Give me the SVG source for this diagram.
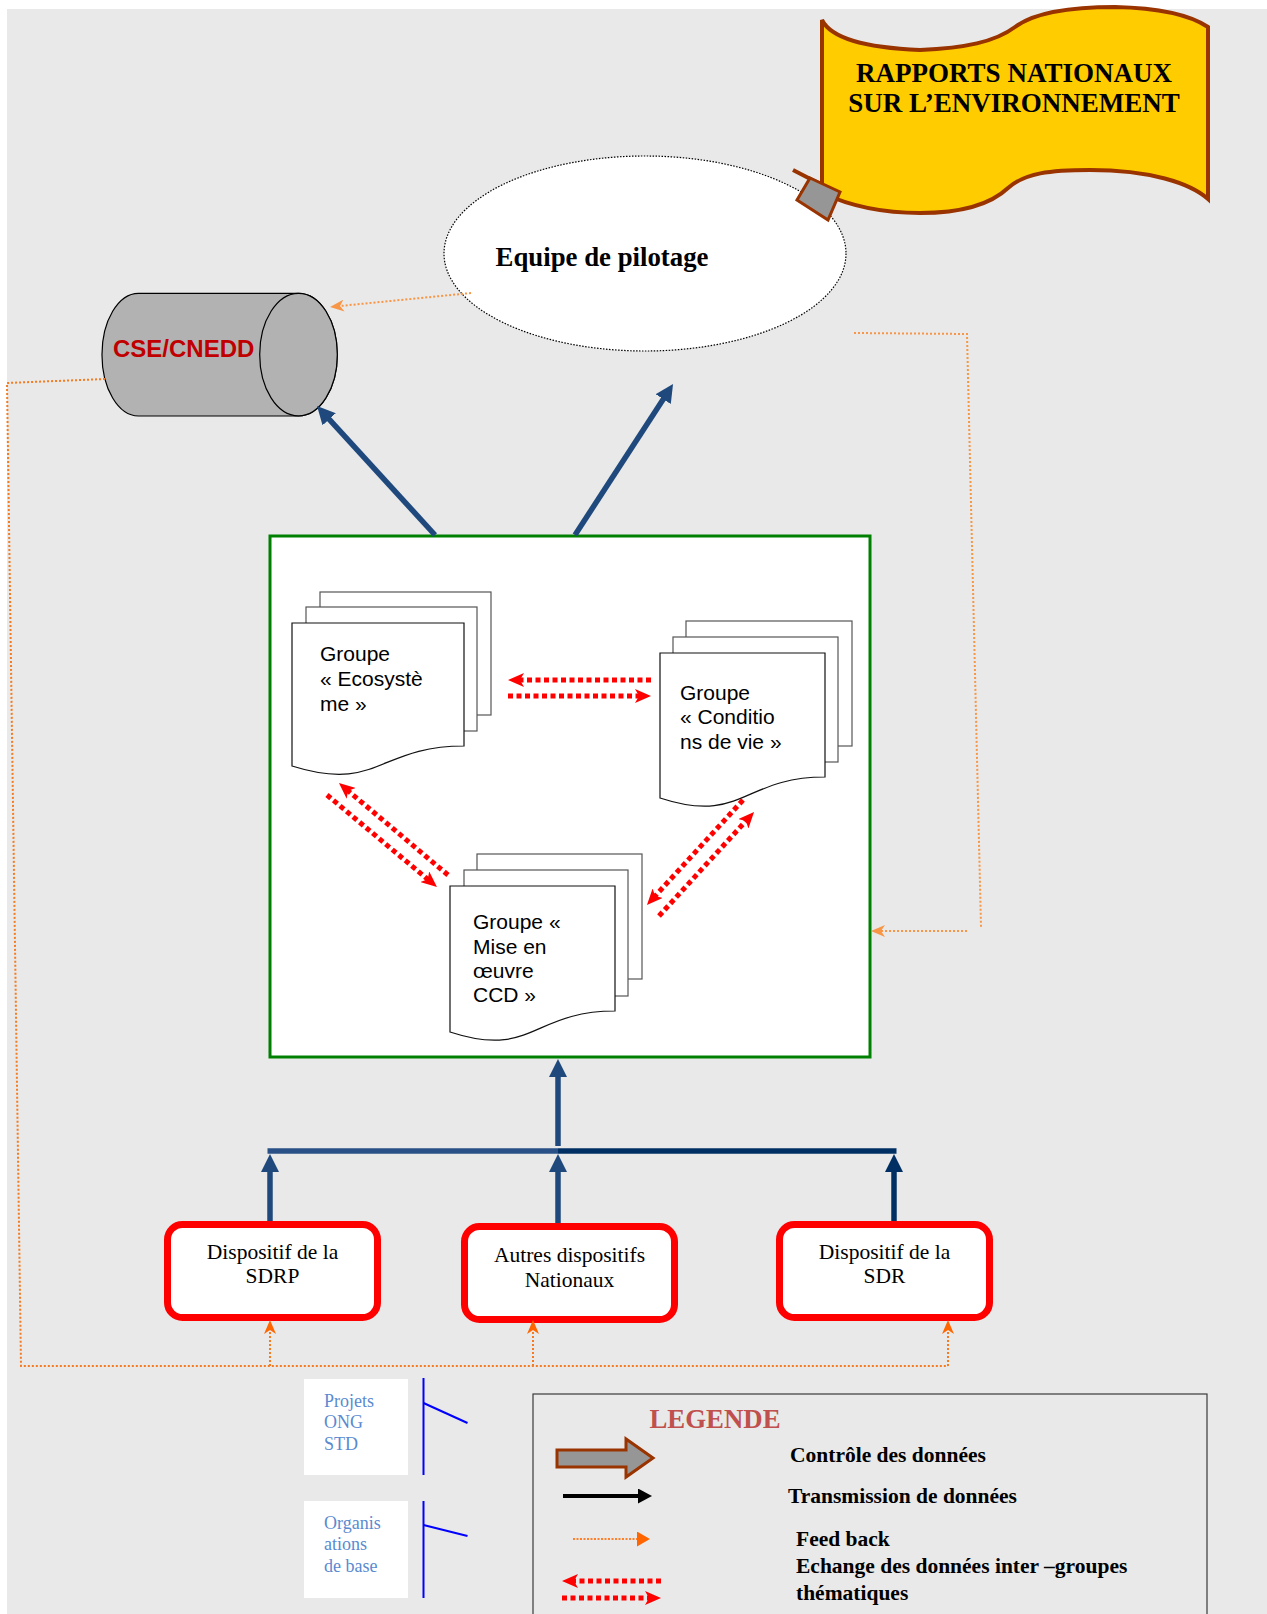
<svg xmlns="http://www.w3.org/2000/svg" width="1267" height="1614" viewBox="0 0 1267 1614">
<style>
.serif{font-family:"Liberation Serif","Times New Roman",serif}
.sans{font-family:"Liberation Sans",Arial,sans-serif}
.page{fill:#fff;stroke:#555;stroke-width:1.2}
.front{fill:#fff;stroke:#111;stroke-width:1.2}
.grp{font-size:21px;fill:#000}
.blue{stroke:#1f497d;stroke-width:5.5;fill:none}
.red{stroke:#ff0000;stroke-width:5;stroke-dasharray:5 3.5;fill:none}
.fbl{stroke:#f79646;stroke-width:2;stroke-dasharray:2 2;fill:none}
.fbd{stroke:#f47b20;stroke-width:2;stroke-dasharray:2 2;fill:none}
.box{fill:#fff;stroke:#ff0000;stroke-width:7}
.boxt{font-size:21.5px;fill:#000;text-anchor:middle}
.leg{font-size:21.5px;font-weight:bold;fill:#000}
.side{font-size:18px;fill:#5a8ad0}
</style>
<defs>
<marker id="ab" viewBox="0 0 18 18" markerWidth="18" markerHeight="18" refX="8" refY="9" orient="auto" markerUnits="userSpaceOnUse"><path d="M0,0 L18,9 L0,18 z" fill="#1f497d"/></marker>
<marker id="abd" viewBox="0 0 18 18" markerWidth="18" markerHeight="18" refX="8" refY="9" orient="auto" markerUnits="userSpaceOnUse"><path d="M0,0 L18,9 L0,18 z" fill="#003063"/></marker>
<marker id="ar" viewBox="0 0 16 14" markerWidth="16" markerHeight="14" refX="6" refY="7" orient="auto" markerUnits="userSpaceOnUse"><path d="M0,0 L16,7 L0,14 L4,7 z" fill="#ff0000"/></marker>
<marker id="aol" viewBox="0 0 14 12" markerWidth="14" markerHeight="12" refX="5" refY="6" orient="auto" markerUnits="userSpaceOnUse"><path d="M0,0 L14,6 L0,12 L4,6 z" fill="#f79646"/></marker>
<marker id="aod" viewBox="0 0 14 12" markerWidth="14" markerHeight="12" refX="5" refY="6" orient="auto" markerUnits="userSpaceOnUse"><path d="M0,0 L14,6 L0,12 L4,6 z" fill="#ff6600"/></marker>
<marker id="aot" viewBox="0 0 13 15" markerWidth="13" markerHeight="15" refX="0" refY="7.5" orient="auto" markerUnits="userSpaceOnUse"><path d="M0,0 L13,7.5 L0,15 z" fill="#ff6600"/></marker>
<marker id="ak" viewBox="0 0 14 15" markerWidth="14" markerHeight="15" refX="0" refY="7.5" orient="auto" markerUnits="userSpaceOnUse"><path d="M0,0 L14,7.5 L0,15 z" fill="#000"/></marker>
</defs>

<rect x="0" y="0" width="1267" height="1614" fill="#fff"/>
<rect x="7" y="9" width="1260" height="1605" fill="#e9e9e9"/>

<g id="equipe">
<ellipse cx="645" cy="253.5" rx="201" ry="97.5" fill="#fff" stroke="#000" stroke-width="1.2" stroke-dasharray="1.5 1.5"/>
<text class="serif" x="602" y="266" font-size="26.8" font-weight="bold" text-anchor="middle">Equipe de pilotage</text>
</g>

<g id="rapports">
<line x1="793" y1="170" x2="857" y2="203" stroke="#993300" stroke-width="4"/>
<path d="M822,20 C832,40 870,48 920,50 C965,48 995,42 1015,27 C1035,12 1075,7 1115,7 C1160,8 1190,15 1208,27 L1208,199 C1190,183 1150,170 1090,170 C1050,170 1025,173 1008,188 C990,205 960,213 920,213 C880,213 850,206 822,193 Z" fill="#ffcc00" stroke="#993300" stroke-width="4"/>
<polygon points="810,178 840,192 828,220 797,200" fill="#969696" stroke="#993300" stroke-width="3"/>
<text class="serif" x="1014" y="82" font-size="27" font-weight="bold" text-anchor="middle">RAPPORTS NATIONAUX</text>
<text class="serif" x="1014" y="112" font-size="27" font-weight="bold" text-anchor="middle">SUR L’ENVIRONNEMENT</text>
</g>

<g id="cse">
<path d="M138.5,293.3 H298.5 A38.8,61.3 0 0 1 298.5,416 H138.5 A36.5,61.3 0 0 1 138.5,293.3 Z" fill="#b2b2b2" stroke="#000" stroke-width="1.2"/>
<ellipse cx="298.5" cy="354.6" rx="38.8" ry="61.3" fill="#b2b2b2" stroke="#000" stroke-width="1.2"/>
<text class="sans" x="113" y="357" font-size="24" font-weight="bold" fill="#c00000">CSE/CNEDD</text>
</g>

<g id="groupes">
<rect x="270" y="536" width="600" height="521" fill="#fff" stroke="#008000" stroke-width="3"/>
</g>

<g id="ecosysteme">
<rect class="page" x="320" y="592" width="171" height="123"/>
<rect class="page" x="306" y="607" width="171" height="124"/>
<path class="front" d="M292,623 H464 V746 C378,746 378,793 292,766 Z"/>
<text class="sans grp" x="320" y="661">Groupe</text>
<text class="sans grp" x="320" y="686">« Ecosystè</text>
<text class="sans grp" x="320" y="711">me »</text>
</g>

<g id="conditions">
<rect class="page" x="686" y="621" width="166" height="125"/>
<rect class="page" x="673" y="637" width="165" height="125"/>
<path class="front" d="M660,653 H825 V777 C742.5,777 742.5,825 660,798 Z"/>
<text class="sans grp" x="680" y="700">Groupe</text>
<text class="sans grp" x="680" y="724">« Conditio</text>
<text class="sans grp" x="680" y="749">ns de vie »</text>
</g>

<g id="mise">
<rect class="page" x="477" y="854" width="165" height="125"/>
<rect class="page" x="464" y="870" width="164" height="126"/>
<path class="front" d="M450,886 H615 V1011 C532.5,1011 532.5,1059 450,1032 Z"/>
<text class="sans grp" x="473" y="929">Groupe «</text>
<text class="sans grp" x="473" y="954">Mise en</text>
<text class="sans grp" x="473" y="978">œuvre</text>
<text class="sans grp" x="473" y="1002">CCD »</text>
</g>

<g id="sdrp">
<rect class="box" x="167.5" y="1224.5" width="210" height="93" rx="15"/>
<text class="serif boxt" x="272.5" y="1259">Dispositif de la</text>
<text class="serif boxt" x="272.5" y="1283">SDRP</text>
</g>
<g id="autres">
<rect class="box" x="464.5" y="1226.5" width="210" height="93" rx="15"/>
<text class="serif boxt" x="569.5" y="1262">Autres dispositifs</text>
<text class="serif boxt" x="569.5" y="1287">Nationaux</text>
</g>
<g id="sdr">
<rect class="box" x="779.5" y="1224.5" width="210" height="93" rx="15"/>
<text class="serif boxt" x="884.5" y="1259">Dispositif de la</text>
<text class="serif boxt" x="884.5" y="1283">SDR</text>
</g>

<g id="projets">
<rect x="304" y="1379" width="104" height="96" fill="#fff"/>
<text class="serif side" x="324" y="1407">Projets</text>
<text class="serif side" x="324" y="1428">ONG</text>
<text class="serif side" x="324" y="1450">STD</text>
<line x1="423.5" y1="1378" x2="423.5" y2="1475" stroke="#0000ff" stroke-width="2"/>
<line x1="423.5" y1="1403" x2="467.5" y2="1423" stroke="#0000ff" stroke-width="2"/>
</g>
<g id="organisations">
<rect x="304" y="1501" width="104" height="97" fill="#fff"/>
<text class="serif side" x="324" y="1529">Organis</text>
<text class="serif side" x="324" y="1550">ations</text>
<text class="serif side" x="324" y="1572">de base</text>
<line x1="423.5" y1="1501" x2="423.5" y2="1598" stroke="#0000ff" stroke-width="2"/>
<line x1="423.5" y1="1525" x2="467.5" y2="1536" stroke="#0000ff" stroke-width="2"/>
</g>

<g id="connectors">
<line class="blue" x1="435" y1="535" x2="323.8" y2="413.4" marker-end="url(#ab)"/>
<line class="blue" x1="575" y1="535" x2="667.6" y2="392.4" marker-end="url(#ab)"/>
<line class="fbl" x1="471" y1="293" x2="339" y2="306.1" marker-end="url(#aol)"/>
<polyline class="fbl" points="854,333 967,334 981,927"/>
<line class="fbl" x1="967" y1="931" x2="880" y2="931" marker-end="url(#aol)"/>
<polyline class="fbd" points="105,379 7,383 21,1366 948,1366"/>
<line class="fbd" x1="270" y1="1366" x2="270" y2="1329" marker-end="url(#aod)"/>
<line class="fbd" x1="533" y1="1366" x2="533" y2="1329" marker-end="url(#aod)"/>
<line class="fbd" x1="948" y1="1366" x2="948" y2="1329" marker-end="url(#aod)"/>
<line class="red" x1="651" y1="680" x2="518" y2="680" marker-end="url(#ar)"/>
<line class="red" x1="508" y1="696" x2="641" y2="696" marker-end="url(#ar)"/>
<line class="red" x1="448" y1="875" x2="346.6" y2="789.5" marker-end="url(#ar)"/>
<line class="red" x1="327" y1="795" x2="429.3" y2="880.6" marker-end="url(#ar)"/>
<line class="red" x1="743" y1="800" x2="653.7" y2="897.6" marker-end="url(#ar)"/>
<line class="red" x1="659" y1="916" x2="747.3" y2="819.4" marker-end="url(#ar)"/>
<line x1="558" y1="1146" x2="558" y2="1069" stroke="#1f497d" stroke-width="5.5" marker-end="url(#ab)"/>
<line x1="267.5" y1="1151" x2="558" y2="1151" stroke="#2a5187" stroke-width="5.5"/>
<line x1="558" y1="1151" x2="896.5" y2="1151" stroke="#003063" stroke-width="5.5"/>
<line x1="270" y1="1221" x2="270" y2="1164" stroke="#1f497d" stroke-width="5.5" marker-end="url(#ab)"/>
<line x1="558" y1="1223" x2="558" y2="1164" stroke="#1f497d" stroke-width="5.5" marker-end="url(#ab)"/>
<line x1="894" y1="1221" x2="894" y2="1164" stroke="#003063" stroke-width="5.5" marker-end="url(#abd)"/>
</g>

<g id="legende">
<rect x="533" y="1394" width="674" height="240" fill="none" stroke="#3a3a3a" stroke-width="1.2"/>
<text class="serif" x="649.5" y="1428" font-size="26.8" font-weight="bold" fill="#c0504d">LEGENDE</text>
<polygon points="557,1450 626,1450 626,1439 653,1458 626,1477 626,1467 557,1467" fill="#969696" stroke="#993300" stroke-width="3"/>
<text class="serif leg" x="790" y="1462">Contrôle des données</text>
<line x1="563" y1="1496" x2="638" y2="1496" stroke="#000" stroke-width="4" marker-end="url(#ak)"/>
<text class="serif leg" x="788" y="1503">Transmission de données</text>
<line x1="573" y1="1539" x2="637" y2="1539" stroke="#ff7f2a" stroke-width="2" stroke-dasharray="2 1.5" marker-end="url(#aot)"/>
<text class="serif leg" x="796" y="1546">Feed back</text>
<line class="red" x1="661" y1="1581" x2="572" y2="1581" marker-end="url(#ar)"/>
<line class="red" x1="562" y1="1598" x2="651" y2="1598" marker-end="url(#ar)"/>
<text class="serif leg" x="796" y="1573">Echange des données inter –groupes</text>
<text class="serif leg" x="796" y="1600">thématiques</text>
</g>
</svg>
